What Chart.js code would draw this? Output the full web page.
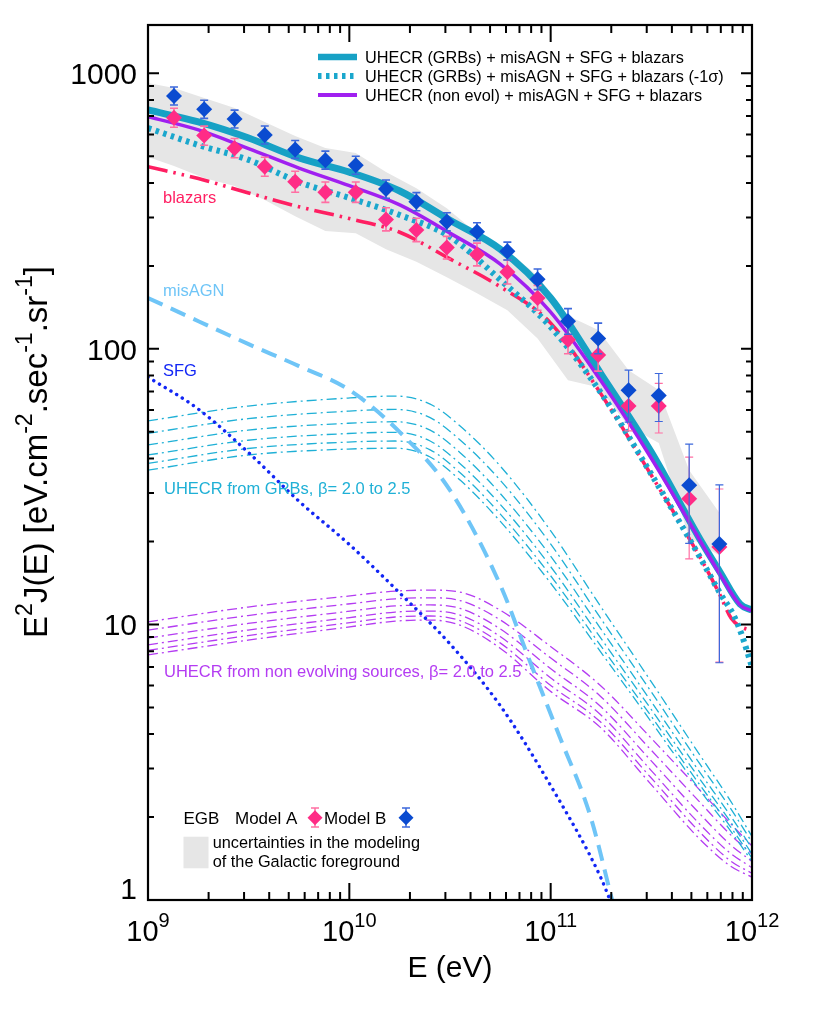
<!DOCTYPE html>
<html><head><meta charset="utf-8">
<script src="https://cdn.jsdelivr.net/npm/chart.js@4.4.1/dist/chart.umd.min.js"></script>
<style>html,body{margin:0;padding:0;background:#fff}canvas{display:block}</style>
</head><body>
<canvas id="c" width="830" height="1009"></canvas>
<script>
// ---------------- data ----------------
// Fermi-LAT EGB bin centres (eV)
const binE = [1.346e9, 1.901e9, 2.692e9, 3.802e9, 5.383e9, 7.603e9, 1.076e10, 1.521e10, 2.153e10, 3.048e10,
              4.305e10, 6.095e10, 8.610e10, 1.219e11, 1.722e11, 2.438e11, 3.443e11, 4.875e11, 6.887e11];
const modelA   = [690, 594, 535, 458, 404, 370, 370, 295, 270, 233, 220, 190, 153, 108, 94.9, 62.0, 62.0, 28.6, 19.1];
const modelAHi = [747, 643, 580, 496, 441, 403, 403, 325, 298, 256, 242, 210, 170, 122, 107, 73, 75, 40.5, 31];
const modelALo = [637, 548, 494, 423, 370, 340, 340, 268, 245, 212, 200, 172, 138, 96, 83, 50.4, 49.5, 17.3, 7.3];
const modelB   = [827, 740, 682, 597, 529, 484, 464, 380, 342, 289, 266, 226, 179, 126, 109, 70.8, 67.7, 32.0, 19.6];
const modelBHi = [892, 798, 735, 644, 570, 522, 500, 410, 369, 312, 287, 244, 195, 140, 124, 83.7, 81.4, 45.1, 32.1];
const modelBLo = [767, 686, 633, 554, 491, 449, 430, 352, 317, 268, 247, 210, 164, 113, 96, 54.2, 54.5, 19.7, 7.26];

// Galactic-foreground uncertainty band
const bandE  = [1e9, 1.346e9, 1.901e9, 2.692e9, 3.802e9, 5.383e9, 7.603e9, 1.076e10, 1.521e10, 2.153e10, 3.048e10,
                4.305e10, 6.095e10, 8.610e10, 1.219e11, 1.722e11, 2.438e11, 3.443e11, 4.875e11, 6.887e11];
const bandHi = [922, 884, 813, 748, 666, 592, 536, 514, 438, 383, 324, 263, 228, 184, 132, 117, 83.7, 70.9, 36.3, 25.4];
const bandLo = [497, 461, 417, 390, 347, 303, 268, 263, 230, 207, 182, 159, 138, 109, 77.0, 72.6, 52.5, 45.5, 20.7, 17.8];

// total models
const totE        = [1e9, 1.78e9, 3.16e9, 5.62e9, 1e10, 1.78e10, 3.16e10, 5.62e10, 1e11, 1.78e11, 3.16e11, 5.62e11, 6.93e11, 8.73e11, 1e12];
const totalGRB    = [736, 666, 582, 493, 438, 374, 293, 230, 153, 81.0, 42.2, 19.9, 15.5, 11.85, 11.27];
const totalNonEv  = [696, 623, 533, 453, 391, 333, 263, 203, 136, 76.4, 40.1, 19.7, 15.2, 11.75, 11.2];
const lowE        = [1e9, 1.78e9, 3.16e9, 5.62e9, 1e10, 1.78e10, 3.16e10, 5.62e10, 1e11, 1.78e11, 3.16e11, 5.62e11, 6.93e11, 8.05e11, 8.83e11, 1e12];
const totalGRBm1s = [633, 549, 485, 403, 353, 306, 255, 178, 120, 69.1, 35.1, 17.1, 13.0, 10.9, 9.3, 7.0];

// components
const blazE   = [1e9, 1.78e9, 3.16e9, 5.62e9, 1e10, 1.78e10, 3.16e10, 5.62e10, 1e11, 1.78e11, 3.16e11, 5.62e11, 6.93e11, 7.9e11, 8.83e11, 1e12];
const blazars = [458, 415, 368, 328, 297, 265, 212, 168, 124, 68.5, 34.8, 17.1, 12.8, 10.5, 9.8, 9.5];
const agnE    = [1e9, 1.78e9, 3.16e9, 5.62e9, 1e10, 1.78e10, 3.16e10, 5.62e10, 7.91e10, 1.11e11, 1.57e11, 2.02e11];
const misAGN  = [153, 126, 104, 86.6, 70.9, 49.9, 30.7, 13.9, 7.30, 3.90, 2.03, 1.0];
const sfgE    = [1e9, 1.78e9, 3.16e9, 5.62e9, 1e10, 1.78e10, 3.16e10, 5.62e10, 1e11, 1.78e11, 1.97e11];
const sfg     = [79, 60.4, 42, 28, 19.5, 13.0, 8.5, 5.07, 2.6, 1.2, 1.0];

// UHECR cascade families (beta = 2.0 ... 2.5)
const famE = [1e9, 3.14e9, 9.85e9, 1.69e10, 2.52e10, 3.55e10, 5.61e10, 9.94e10, 1.76e11, 3.12e11, 5.52e11, 7.79e11, 1e12];
const grbB20 = [54.8, 62.0, 66.3, 67.4, 63.0, 52.5, 37.6, 22.0, 11.7, 6.28, 3.35, 2.30, 1.70];
const grbB21 = [49.4, 55.8, 59.4, 60.3, 56.3, 46.7, 33.4, 19.7, 10.6, 5.77, 3.11, 2.16, 1.62];
const grbB22 = [44.8, 50.7, 53.7, 54.4, 50.7, 42.0, 29.9, 17.8, 9.72, 5.32, 2.90, 2.03, 1.54];
const grbB23 = [41.2, 46.6, 49.3, 49.8, 46.3, 38.3, 27.3, 16.3, 8.99, 4.98, 2.74, 1.93, 1.47];
const grbB24 = [38.4, 43.5, 45.9, 46.3, 43.0, 35.5, 25.2, 15.1, 8.43, 4.70, 2.61, 1.85, 1.42];
const grbB25 = [36.3, 41.2, 43.3, 43.6, 40.5, 33.4, 23.7, 14.2, 8.00, 4.49, 2.50, 1.79, 1.38];
const neB20 = [10.22, 11.56, 12.67, 13.21, 13.32, 13.10, 11.27, 8.34, 6.02, 3.90, 2.50, 1.90, 1.57];
const neB21 = [9.53, 10.77, 11.86, 12.39, 12.49, 12.21, 10.39, 7.58, 5.50, 3.53, 2.26, 1.73, 1.47];
const neB22 = [8.92, 10.08, 11.15, 11.67, 11.77, 11.43, 9.64, 6.93, 5.06, 3.23, 2.05, 1.59, 1.38];
const neB23 = [8.43, 9.54, 10.57, 11.09, 11.18, 10.81, 9.04, 6.42, 4.72, 2.98, 1.88, 1.48, 1.31];
const neB24 = [8.05, 9.11, 10.13, 10.64, 10.73, 10.32, 8.57, 6.03, 4.44, 2.80, 1.76, 1.39, 1.25];
const neB25 = [7.75, 8.77, 9.78, 10.28, 10.37, 9.94, 8.20, 5.73, 4.24, 2.65, 1.66, 1.33, 1.21];

// ticks
const xTickValues = [1e9, 1e10, 1e11, 1e12];
const xTickExp    = ['9', '10', '11', '12'];
const yTickValues = [1, 10, 100, 1000];
const yTickLabels = ['1', '10', '100', '1000'];

// ---------------- styling ----------------
const FONT = '"Liberation Sans", Arial, Helvetica, sans-serif';
const C = {
  teal: '#17a1c5', tealDot: '#1aa7cd', purple: '#a020f0', blazar: '#ff1f62',
  agn: '#6fc5f7', sfg: '#1226f5', grb: '#1fb0d6', ne: '#b43cf2',
  ptA: '#ff2c86', ptB: '#0a4bd0', errA: '#ff6fa3', errB: '#3d68dc', band: '#e6e6e6'
};
const pts = (xs, ys) => xs.map((x, i) => ({x: x, y: ys[i]}));
const curve = (label, xs, ys, color, width, dash, order, cap) => ({
  label, data: pts(xs, ys), borderColor: color, borderWidth: width, borderDash: dash || [],
  borderCapStyle: cap || 'butt', pointRadius: 0, fill: false, cubicInterpolationMode: 'monotone', order
});
const thinDash = [10, 4, 2, 4];

const datasets = [
  {label: 'bandHi', data: pts(bandE, bandHi), borderWidth: 0, pointRadius: 0, backgroundColor: C.band,
   fill: '+1', tension: 0, order: 100},
  {label: 'bandLo', data: pts(bandE, bandLo), borderWidth: 0, pointRadius: 0, fill: false, tension: 0, order: 100},
  curve('grbB20', famE, grbB20, C.grb, 1.3, thinDash, 90),
  curve('grbB21', famE, grbB21, C.grb, 1.3, thinDash, 90),
  curve('grbB22', famE, grbB22, C.grb, 1.3, thinDash, 90),
  curve('grbB23', famE, grbB23, C.grb, 1.3, thinDash, 90),
  curve('grbB24', famE, grbB24, C.grb, 1.3, thinDash, 90),
  curve('grbB25', famE, grbB25, C.grb, 1.3, thinDash, 90),
  curve('neB20', famE, neB20, C.ne, 1.3, thinDash, 90),
  curve('neB21', famE, neB21, C.ne, 1.3, thinDash, 90),
  curve('neB22', famE, neB22, C.ne, 1.3, thinDash, 90),
  curve('neB23', famE, neB23, C.ne, 1.3, thinDash, 90),
  curve('neB24', famE, neB24, C.ne, 1.3, thinDash, 90),
  curve('neB25', famE, neB25, C.ne, 1.3, thinDash, 90),
  curve('SFG', sfgE, sfg, C.sfg, 3.4, [0.1, 6.6], 80, 'round'),
  curve('misAGN', agnE, misAGN, C.agn, 4, [16, 9], 80),
  curve('blazars', blazE, blazars, C.blazar, 3.6, [20, 6, 2.5, 6, 2.5, 6], 70),
  curve('UHECR (GRBs) + misAGN + SFG + blazars (-1σ)', lowE, totalGRBm1s, C.tealDot, 6, [3.5, 4.5], 60),
  curve('UHECR (GRBs) + misAGN + SFG + blazars', totE, totalGRB, C.teal, 7, [], 50),
  curve('UHECR (non evol) + misAGN + SFG + blazars', totE, totalNonEv, C.purple, 3.5, [], 40),
  {label: 'Model A', data: pts(binE, modelA), showLine: false, pointStyle: 'rectRot', pointRadius: 8,
   pointBackgroundColor: C.ptA, pointBorderColor: C.ptA, pointBorderWidth: 0, order: 20},
  {label: 'Model B', data: pts(binE, modelB), showLine: false, pointStyle: 'rectRot', pointRadius: 8,
   pointBackgroundColor: C.ptB, pointBorderColor: C.ptB, pointBorderWidth: 0, order: 10}
];

const errSpecs = {
  'Model A': {x: binE, hi: modelAHi, lo: modelALo, color: C.errA},
  'Model B': {x: binE, hi: modelBHi, lo: modelBLo, color: C.errB}
};

// ---------------- helpers ----------------
function setFont(ctx, size) { ctx.font = size + 'px ' + FONT; }
function richWidth(ctx, parts, big, small) {
  let w = 0;
  for (const p of parts) { setFont(ctx, p.s ? small : big); w += ctx.measureText(p.t).width; }
  return w;
}
function drawRich(ctx, parts, x, y, big, small, rise) {
  let cx = x;
  for (const p of parts) {
    setFont(ctx, p.s ? small : big);
    ctx.fillText(p.t, cx, p.s ? y - rise : y);
    cx += ctx.measureText(p.t).width;
  }
}
function diamond(ctx, x, y, r, color) {
  ctx.fillStyle = color;
  ctx.beginPath(); ctx.moveTo(x - r, y); ctx.lineTo(x, y - r); ctx.lineTo(x + r, y); ctx.lineTo(x, y + r);
  ctx.closePath(); ctx.fill();
}
function errBar(ctx, x, y1, y2, color, w) {
  ctx.strokeStyle = color; ctx.lineWidth = w; ctx.setLineDash([]);
  ctx.beginPath(); ctx.moveTo(x, y1); ctx.lineTo(x, y2);
  ctx.moveTo(x - 4, y1); ctx.lineTo(x + 4, y1); ctx.moveTo(x - 4, y2); ctx.lineTo(x + 4, y2); ctx.stroke();
}

const errorBarPlugin = {
  id: 'errbars',
  beforeDatasetDraw(chart, args) {
    const ds = chart.data.datasets[args.index];
    const spec = errSpecs[ds.label];
    if (!spec) return;
    const {ctx, chartArea: a} = chart, xs = chart.scales.x, ys = chart.scales.y;
    ctx.save();
    ctx.beginPath(); ctx.rect(a.left, a.top, a.right - a.left, a.bottom - a.top); ctx.clip();
    spec.x.forEach((e, i) => {
      errBar(ctx, xs.getPixelForValue(e), ys.getPixelForValue(spec.hi[i]), ys.getPixelForValue(spec.lo[i]),
             spec.color, i >= 15 ? 1.2 : 1.6);
    });
    ctx.restore();
  }
};

const axesPlugin = {
  id: 'axesdeco',
  afterDraw(chart) {
    const {ctx, chartArea: a} = chart, xs = chart.scales.x, ys = chart.scales.y;
    ctx.save();
    ctx.setLineDash([]);
    ctx.strokeStyle = '#000'; ctx.fillStyle = '#000';
    // frame
    ctx.lineWidth = 2.2;
    ctx.strokeRect(a.left, a.top, a.right - a.left, a.bottom - a.top);
    // ticks
    ctx.lineWidth = 2;
    ctx.beginPath();
    for (let k = 9; k <= 12; k++) {
      for (let m = 1; m <= 9; m++) {
        const v = m * Math.pow(10, k);
        if (v > 1e12) break;
        const px = xs.getPixelForValue(v), len = m === 1 ? 17 : 8;
        ctx.moveTo(px, a.bottom); ctx.lineTo(px, a.bottom - len);
        ctx.moveTo(px, a.top); ctx.lineTo(px, a.top + len);
      }
    }
    for (let k = 0; k <= 3; k++) {
      for (let m = 1; m <= 9; m++) {
        const v = m * Math.pow(10, k);
        if (v > ys.max) break;
        const py = ys.getPixelForValue(v), len = m === 1 ? 11 : 6;
        ctx.moveTo(a.left, py); ctx.lineTo(a.left + len, py);
        ctx.moveTo(a.right, py); ctx.lineTo(a.right - len, py);
      }
    }
    ctx.stroke();

    // x tick labels 10^n
    ctx.textAlign = 'left'; ctx.textBaseline = 'alphabetic';
    xTickValues.forEach((v, i) => {
      const parts = [{t: '10'}, {t: xTickExp[i], s: true}];
      const w = richWidth(ctx, parts, 29, 20);
      drawRich(ctx, parts, xs.getPixelForValue(v) - w / 2, 941, 29, 20, 14);
    });
    // y tick labels
    ctx.textAlign = 'right';
    setFont(ctx, 30);
    yTickValues.forEach((v, i) => {
      const py = ys.getPixelForValue(v);
      const base = (i === 0) ? py - 1 : py + 10.8;
      ctx.fillText(yTickLabels[i], 137, base);
    });
    // x title
    ctx.textAlign = 'center';
    setFont(ctx, 30);
    ctx.fillText('E (eV)', (a.left + a.right) / 2, 977);
    // y title
    ctx.textAlign = 'left';
    const yParts = [{t: 'E'}, {t: '2', s: true}, {t: 'J(E) [eV.cm'}, {t: '-2', s: true}, {t: '.sec'},
                    {t: '-1', s: true}, {t: '.sr'}, {t: '-1', s: true}, {t: ']'}];
    ctx.save();
    ctx.translate(47, 452);
    ctx.rotate(-Math.PI / 2);
    const yw = richWidth(ctx, yParts, 33, 23);
    drawRich(ctx, yParts, -yw / 2, 0, 33, 23, 15);
    ctx.restore();

    // in-plot labels
    ctx.textAlign = 'left';
    setFont(ctx, 16.5);
    ctx.fillStyle = C.blazar; ctx.fillText('blazars', 163, 203);
    ctx.fillStyle = C.agn; ctx.fillText('misAGN', 163, 296);
    ctx.fillStyle = C.sfg; ctx.fillText('SFG', 163, 376);
    ctx.fillStyle = C.grb; ctx.fillText('UHECR from GRBs, \u03B2= 2.0 to 2.5', 164, 494);
    ctx.fillStyle = C.ne; ctx.fillText('UHECR from non evolving sources, \u03B2= 2.0 to 2.5', 164, 677);

    // top legend
    const legendRows = [
      {y: 57, color: C.teal, w: 6.5, dash: [], text: 'UHECR (GRBs) + misAGN + SFG + blazars'},
      {y: 76, color: C.tealDot, w: 6, dash: [3.5, 4.5], text: 'UHECR (GRBs) + misAGN + SFG + blazars (-1\u03C3)'},
      {y: 95, color: C.purple, w: 4, dash: [], text: 'UHECR (non evol) + misAGN + SFG + blazars'}
    ];
    legendRows.forEach(r => {
      ctx.strokeStyle = r.color; ctx.lineWidth = r.w; ctx.setLineDash(r.dash);
      ctx.beginPath(); ctx.moveTo(318, r.y); ctx.lineTo(357, r.y); ctx.stroke();
      ctx.setLineDash([]);
      ctx.fillStyle = '#000'; setFont(ctx, 16.3);
      ctx.fillText(r.text, 365, r.y + 6);
    });

    // bottom legend
    ctx.fillStyle = '#000'; setFont(ctx, 17);
    ctx.fillText('EGB', 183.5, 823.5);
    ctx.fillText('Model A', 235, 823.5);
    ctx.fillText('Model B', 324, 823.5);
    errBar(ctx, 315, 808, 827, C.errA, 1.5);
    diamond(ctx, 315, 817.7, 7.5, C.ptA);
    errBar(ctx, 406, 808, 827, C.errB, 1.5);
    diamond(ctx, 406, 817.7, 7.5, C.ptB);
    ctx.fillStyle = C.band;
    ctx.fillRect(183.5, 836.7, 25, 31.6);
    ctx.fillStyle = '#000'; setFont(ctx, 16.3);
    ctx.fillText('uncertainties in the modeling', 212.7, 847.7);
    ctx.fillText('of the Galactic foreground', 212.7, 866.7);
    ctx.restore();
  }
};

new Chart(document.getElementById('c'), {
  type: 'line',
  data: {datasets},
  options: {
    responsive: false, animation: false, devicePixelRatio: 1,
    layout: {padding: {left: 148, right: 78, top: 25, bottom: 109}},
    scales: {
      x: {type: 'logarithmic', min: 1e9, max: 1e12, display: false},
      y: {type: 'logarithmic', min: 1, max: 1497, display: false}
    },
    plugins: {legend: {display: false}, tooltip: {enabled: false}},
    events: []
  },
  plugins: [errorBarPlugin, axesPlugin]
});
</script>
</body></html>
